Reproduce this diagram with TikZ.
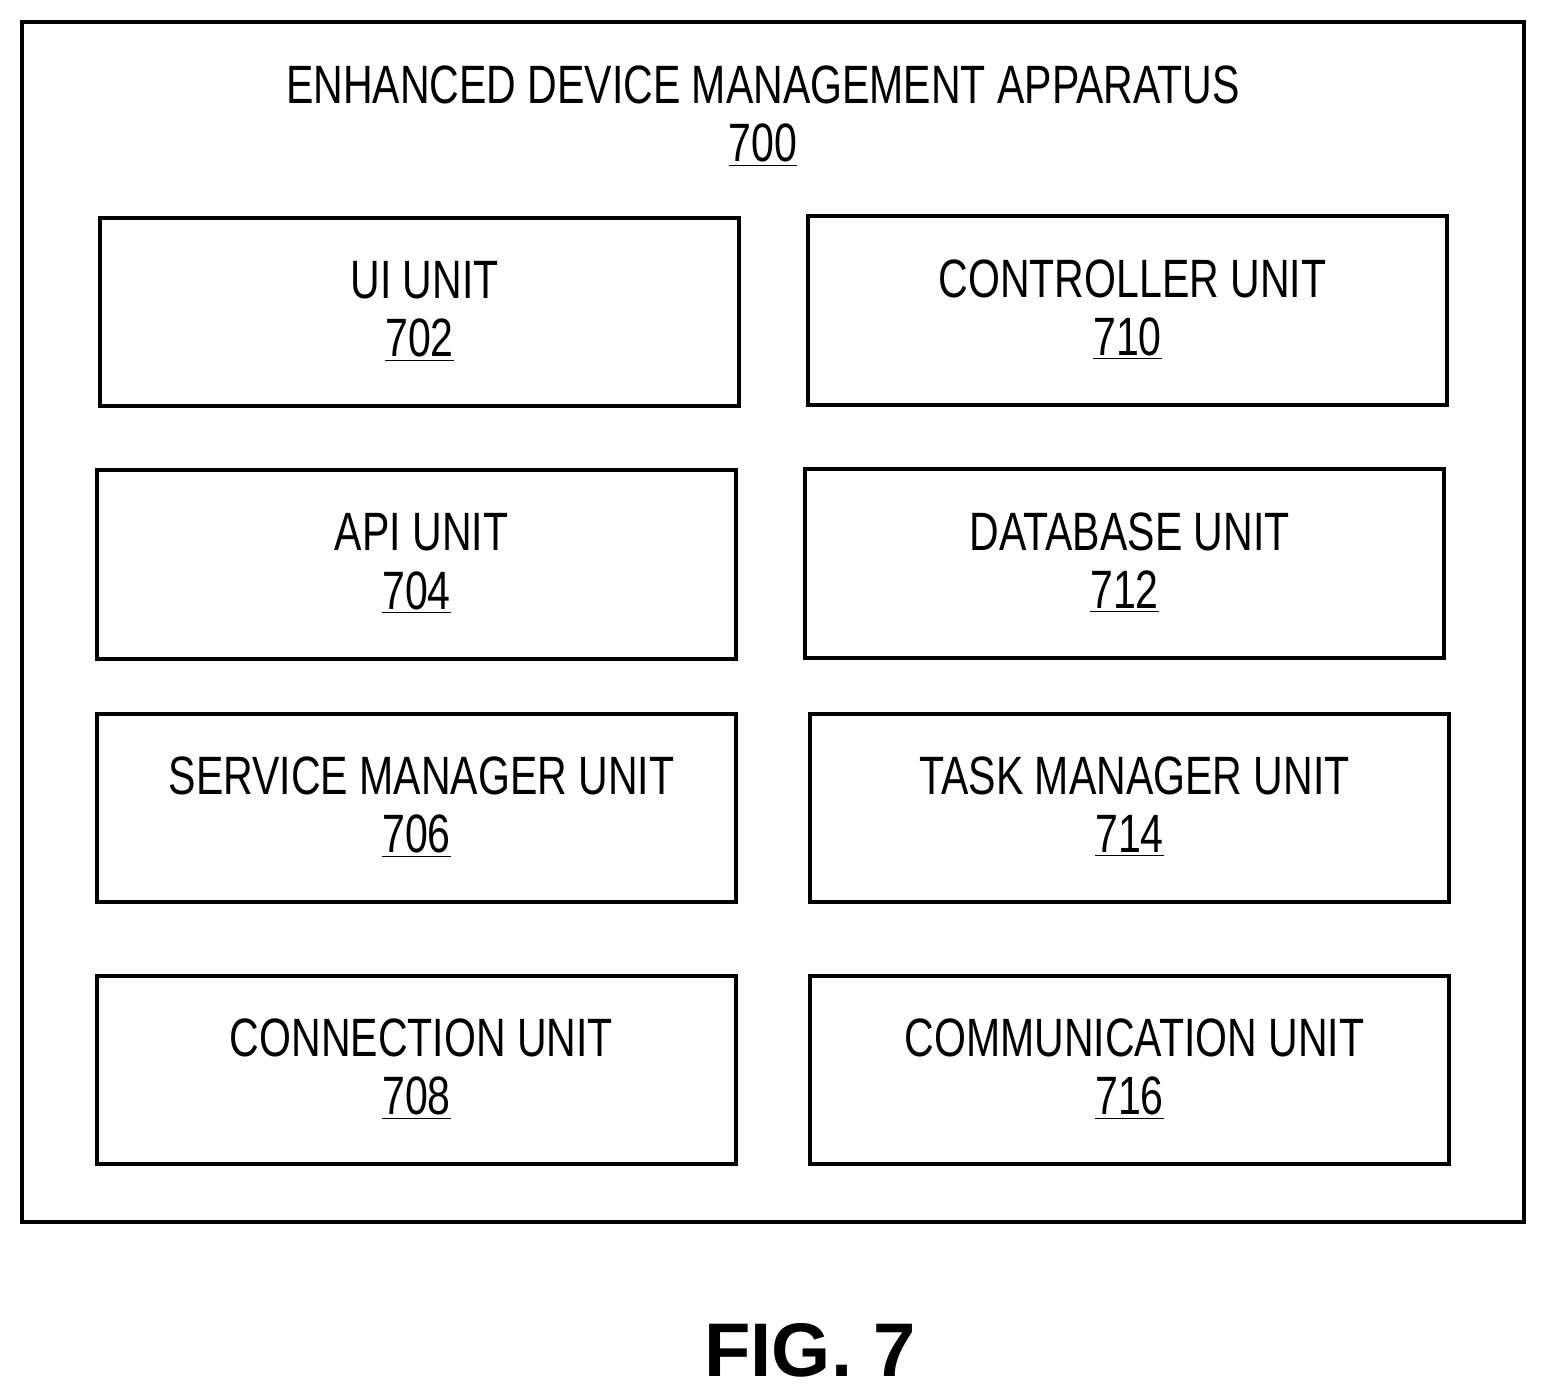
\documentclass[tikz,border=0pt]{standalone}
\usepackage{fontspec}
\setmainfont{Liberation Sans}
\usepackage{graphicx}
\newcommand{\nt}[1]{\scalebox{0.76}[1]{#1}}
\begin{document}
\begin{tikzpicture}[x=0.5pt,y=-0.5pt,
  box/.style={draw,line width=2pt},
  lbl/.style={font=\fontsize{27}{30}\selectfont,inner sep=0pt}]
\useasboundingbox (0,0) rectangle (1546,1397);
\draw[box] (22,22) rectangle (1524,1222);
\node[lbl] (title) at (763,85) {\nt{ENHANCED DEVICE MANAGEMENT APPARATUS}};
\node[lbl] (n700) at (763,145) {\nt{\underline{700}}};
\newcommand{\unit}[6]{%
  \draw[box] (#1,#2) rectangle (#3,#4);
  \node[lbl] (u#6) at ({(#1+#3)/2+5},{(#2+#4)/2-32}) {\nt{#5}};
  \node[lbl] (n#6) at ({(#1+#3)/2},{(#2+#4)/2+28}) {\nt{\underline{#6}}};}
\unit{100}{218}{739}{406}{UI UNIT}{702}
\unit{808}{216}{1447}{405}{CONTROLLER UNIT}{710}
\unit{97}{470}{736}{659}{API UNIT}{704}
\unit{805}{469}{1444}{658}{DATABASE UNIT}{712}
\unit{97}{714}{736}{902}{SERVICE MANAGER UNIT}{706}
\unit{810}{714}{1449}{902}{TASK MANAGER UNIT}{714}
\unit{97}{976}{736}{1164}{CONNECTION UNIT}{708}
\unit{810}{976}{1449}{1164}{COMMUNICATION UNIT}{716}
\node[inner sep=0pt,font=\fontsize{38}{40}\selectfont\bfseries] (fig) at (810,1350) {FIG. 7};
\end{tikzpicture}
\end{document}
